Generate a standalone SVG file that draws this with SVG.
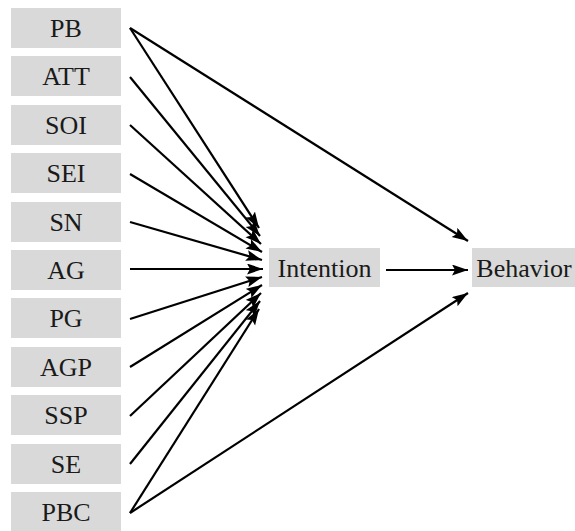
<svg xmlns="http://www.w3.org/2000/svg" width="575" height="531" viewBox="0 0 575 531">
<style>
.box{fill:#d9d9d9;}
.lbl{font-family:"Liberation Serif","Times New Roman",serif;font-size:26px;fill:#1a1a1a;text-anchor:middle;dominant-baseline:central;}
.edge{stroke:#000;stroke-width:2.2;fill:none;marker-end:url(#ah);}
</style>
<defs>
<marker id="ah" markerUnits="userSpaceOnUse" markerWidth="18" markerHeight="13" refX="16" refY="5.5" orient="auto">
<path d="M0,0 L16,5.5 L0,11 L3,5.5 z" fill="#000"/>
</marker>
</defs>
<rect width="575" height="531" fill="#fff"/>
<g id="PB"><rect class="box" x="11" y="8" width="110" height="40"/><text class="lbl" x="66" y="28">PB</text></g>
<g id="ATT"><rect class="box" x="11" y="56" width="110" height="40"/><text class="lbl" x="66" y="76">ATT</text></g>
<g id="SOI"><rect class="box" x="11" y="105" width="110" height="40"/><text class="lbl" x="66" y="125">SOI</text></g>
<g id="SEI"><rect class="box" x="11" y="153" width="110" height="40"/><text class="lbl" x="66" y="173">SEI</text></g>
<g id="SN"><rect class="box" x="11" y="202" width="110" height="40"/><text class="lbl" x="66" y="222">SN</text></g>
<g id="AG"><rect class="box" x="11" y="250" width="110" height="40"/><text class="lbl" x="66" y="270">AG</text></g>
<g id="PG"><rect class="box" x="11" y="298" width="110" height="40"/><text class="lbl" x="66" y="318">PG</text></g>
<g id="AGP"><rect class="box" x="11" y="347" width="110" height="40"/><text class="lbl" x="66" y="367">AGP</text></g>
<g id="SSP"><rect class="box" x="11" y="395" width="110" height="40"/><text class="lbl" x="66" y="415">SSP</text></g>
<g id="SE"><rect class="box" x="11" y="444" width="110" height="40"/><text class="lbl" x="66" y="464">SE</text></g>
<g id="PBC"><rect class="box" x="11" y="492" width="110" height="39"/><text class="lbl" x="66" y="512">PBC</text></g>
<g id="Intention"><rect class="box" x="269" y="248" width="111" height="39"/><text class="lbl" x="324.5" y="268">Intention</text></g>
<g id="Behavior"><rect class="box" x="472" y="248" width="103" height="39"/><text class="lbl" x="524" y="268">Behavior</text></g>
<g id="connectors">
<line class="edge" x1="130" y1="28" x2="259" y2="228"/>
<line class="edge" x1="130" y1="77" x2="260" y2="236"/>
<line class="edge" x1="130" y1="125" x2="261" y2="244"/>
<line class="edge" x1="130" y1="174" x2="262" y2="252"/>
<line class="edge" x1="130" y1="222" x2="262" y2="260"/>
<line class="edge" x1="130" y1="269" x2="263" y2="269"/>
<line class="edge" x1="130" y1="319" x2="262" y2="277"/>
<line class="edge" x1="130" y1="367" x2="262" y2="285"/>
<line class="edge" x1="130" y1="416" x2="261" y2="293"/>
<line class="edge" x1="130" y1="464" x2="260" y2="301"/>
<line class="edge" x1="130" y1="513" x2="259" y2="309"/>
<line class="edge" x1="130" y1="28" x2="468" y2="241"/>
<line class="edge" x1="130" y1="513" x2="468" y2="293"/>
<line class="edge" x1="386" y1="270" x2="468" y2="270"/>
</g>
</svg>
